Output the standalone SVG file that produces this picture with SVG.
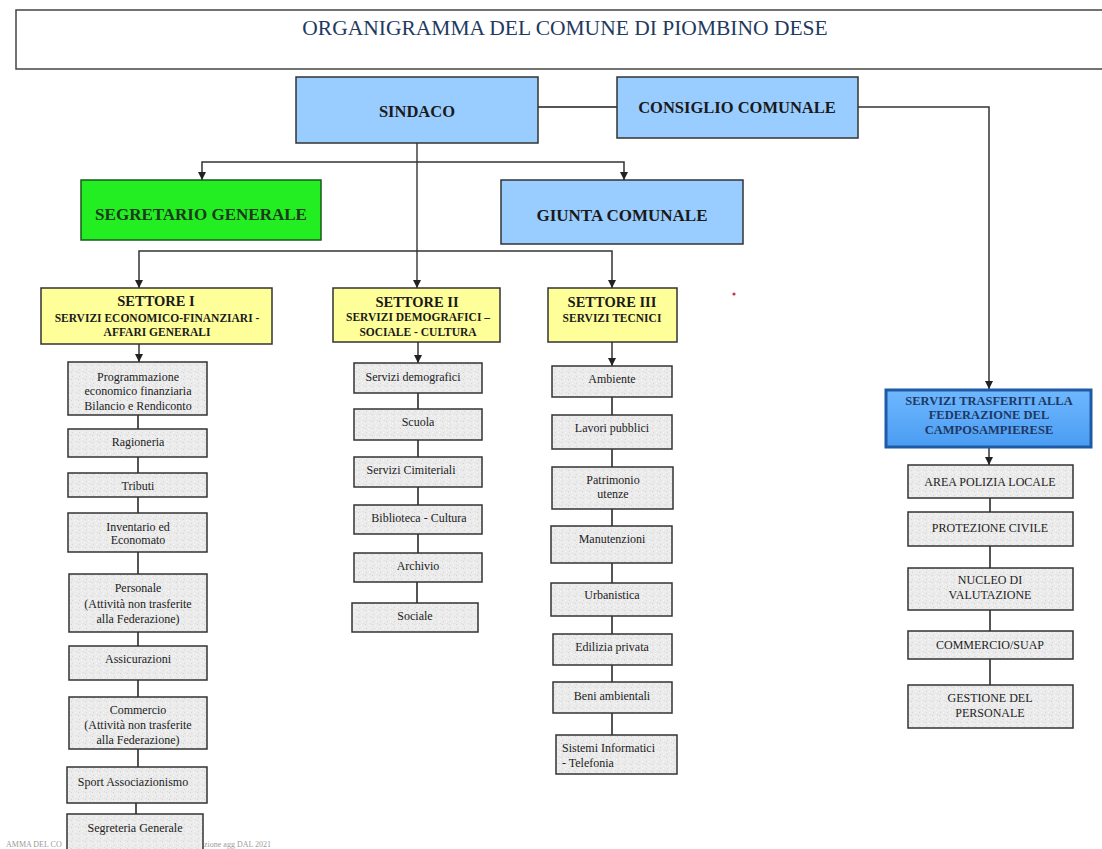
<svg xmlns="http://www.w3.org/2000/svg" width="1102" height="849" viewBox="0 0 1102 849">
<style>
text{font-family:"Liberation Serif","Times New Roman",serif;text-anchor:middle;fill:#222}
.h{font-weight:bold;font-size:16.5px;fill:#1a1a1a}
.st{font-weight:bold;font-size:14.5px;fill:#1a1a1a}
.ss{font-weight:bold;font-size:11.5px;fill:#1a1a1a}
.g{font-size:12px;fill:#222}
.u{font-size:12px;fill:#222}
.blue{fill:#99ccff;stroke:#333;stroke-width:1.5}
.yel{fill:#ffff99;stroke:#333;stroke-width:1.5}
.grey{fill:url(#gran);stroke:#333;stroke-width:1.5}
.c{stroke:#555;stroke-width:2;fill:none}
.ca{stroke:#333;stroke-width:1.5;fill:none;marker-end:url(#arr)}
</style>
<defs>
<marker id="arr" viewBox="0 0 8 8" refX="8" refY="4" markerWidth="8" markerHeight="8" markerUnits="userSpaceOnUse" orient="auto">
<path d="M0,0 L8,4 L0,8 z" fill="#222"/>
</marker>
<pattern id="gran" width="7" height="7" patternUnits="userSpaceOnUse">
<rect width="7" height="7" fill="#ebebeb"/>
<rect x="1" y="1" width="1" height="1" fill="#d2d2d2"/>
<rect x="4" y="2" width="1" height="1" fill="#f9f9f9"/>
<rect x="2" y="5" width="1" height="1" fill="#d8d8d8"/>
<rect x="5" y="5" width="1" height="1" fill="#fafafa"/>
<rect x="6" y="0" width="1" height="1" fill="#dcdcdc"/>
<rect x="0" y="3" width="1" height="1" fill="#f6f6f6"/>
</pattern>
<linearGradient id="bg" x1="0" y1="0" x2="0" y2="1">
<stop offset="0" stop-color="#6fb8ff"/>
<stop offset="1" stop-color="#4a9cf2"/>
</linearGradient>
</defs>
<rect width="1102" height="849" fill="#ffffff"/>

<g id="title">
<rect x="16" y="10" width="1100" height="59" fill="#fff" stroke="#444" stroke-width="1.5"/>
<text x="565" y="35" style="font-size:21.5px;fill:#1f3a5f">ORGANIGRAMMA DEL COMUNE DI PIOMBINO DESE</text>
</g>

<g id="footer">
<text x="6" y="847" style="font-size:8px;fill:#9a9a9a;text-anchor:start">AMMA DEL CO</text>
<text x="204" y="847" style="font-size:8px;fill:#9a9a9a;text-anchor:start">zione agg DAL 2021</text>
</g>

<g id="connectors">
<path class="c" d="M538,107 H617"/>
<path class="ca" d="M858,107 H989 V389"/>
<path class="ca" d="M417,143 V288" style="stroke:#111;stroke-width:1.2"/>
<path class="ca" d="M417,162 H202 V180"/>
<path class="ca" d="M417,162 H624 V180"/>
<path class="ca" d="M417,251 H139 V288"/>
<path class="ca" d="M417,251 H612 V288"/>
<path class="ca" d="M139,344 V362"/>
<path class="ca" d="M418,342 V363"/>
<path class="ca" d="M612,342 V366"/>
<path class="ca" d="M989,448 V465"/>
<path class="c" d="M138,415 V429 M138,457 V473 M138,497 V513 M138,552 V574 M138,632 V646 M138,680 V697 M138,749 V767 M136,803 V814"/>
<path class="c" d="M418,393 V409 M418,440 V457 M418,487 V505 M418,534 V553 M417,582 V603"/>
<path class="c" d="M612,397 V415 M612,449 V467 M612,509 V526 M612,563 V583 M612,616 V635 M612,665 V682 M612,713 V735"/>
<path class="c" d="M990,498 V512 M990,546 V568 M990,610 V631 M990,659 V685"/>
</g>

<circle cx="734" cy="294" r="1.6" fill="#cc3344"/>

<g id="sindaco"><rect class="blue" x="296" y="77" width="242" height="66"/><text class="h" x="417" y="117">SINDACO</text></g>
<g id="consiglio"><rect class="blue" x="617" y="77" width="241" height="61"/><text class="h" x="737" y="113">CONSIGLIO COMUNALE</text></g>
<g id="segretario"><rect x="81" y="180" width="240" height="60" fill="#22ee22" stroke="#1a5a1a" stroke-width="1.5"/><text class="h" x="201" y="220" style="font-size:17px;fill:#1c3a1c">SEGRETARIO GENERALE</text></g>
<g id="giunta"><rect class="blue" x="501" y="180" width="242" height="64"/><text class="h" x="622" y="221" style="font-size:17px">GIUNTA COMUNALE</text></g>

<g id="settore1"><rect class="yel" x="41" y="288" width="231" height="56"/>
<text class="st" x="156" y="306">SETTORE I</text>
<text class="ss" x="157" y="322">SERVIZI ECONOMICO-FINANZIARI -</text>
<text class="ss" x="157" y="336">AFFARI GENERALI</text></g>
<g id="settore2"><rect class="yel" x="333" y="288" width="167" height="54"/>
<text class="st" x="417" y="307">SETTORE II</text>
<text class="ss" x="418" y="321">SERVIZI DEMOGRAFICI –</text>
<text class="ss" x="418" y="336">SOCIALE - CULTURA</text></g>
<g id="settore3"><rect class="yel" x="548" y="288" width="129" height="54"/>
<text class="st" x="612" y="307">SETTORE III</text>
<text class="ss" x="612" y="322">SERVIZI TECNICI</text></g>

<g id="col1">
<g id="programmazione"><rect class="grey" x="68" y="362" width="139" height="53"/><text class="g" x="138" y="381">Programmazione</text><text class="g" x="138" y="395">economico finanziaria</text><text class="g" x="138" y="410">Bilancio e Rendiconto</text></g>
<g id="ragioneria"><rect class="grey" x="68" y="429" width="139" height="28"/><text class="g" x="138" y="446">Ragioneria</text></g>
<g id="tributi"><rect class="grey" x="68" y="473" width="139" height="24"/><text class="g" x="138" y="490">Tributi</text></g>
<g id="inventario"><rect class="grey" x="68" y="513" width="139" height="39"/><text class="g" x="138" y="531">Inventario ed</text><text class="g" x="138" y="544">Economato</text></g>
<g id="personale"><rect class="grey" x="69" y="574" width="138" height="58"/><text class="g" x="138" y="592">Personale</text><text class="g" x="138" y="608">(Attività non trasferite</text><text class="g" x="138" y="623">alla Federazione)</text></g>
<g id="assicurazioni"><rect class="grey" x="69" y="646" width="138" height="34"/><text class="g" x="138" y="663">Assicurazioni</text></g>
<g id="commercio"><rect class="grey" x="69" y="697" width="138" height="52"/><text class="g" x="138" y="714">Commercio</text><text class="g" x="138" y="729">(Attività non trasferite</text><text class="g" x="138" y="744">alla Federazione)</text></g>
<g id="sport"><rect class="grey" x="67" y="767" width="140" height="36"/><text class="g" x="133" y="786">Sport Associazionismo</text></g>
<g id="segreteria"><rect class="grey" x="67" y="814" width="136" height="46"/><text class="g" x="135" y="832">Segreteria Generale</text></g>
</g>

<g id="col2">
<g id="demografici"><rect class="grey" x="354" y="363" width="128" height="30"/><text class="g" x="413" y="381">Servizi demografici</text></g>
<g id="scuola"><rect class="grey" x="354" y="409" width="128" height="31"/><text class="g" x="418" y="426">Scuola</text></g>
<g id="cimiteriali"><rect class="grey" x="354" y="457" width="128" height="30"/><text class="g" x="411" y="474">Servizi Cimiteriali</text></g>
<g id="biblioteca"><rect class="grey" x="354" y="505" width="128" height="29"/><text class="g" x="419" y="522">Biblioteca - Cultura</text></g>
<g id="archivio"><rect class="grey" x="354" y="553" width="128" height="29"/><text class="g" x="418" y="570">Archivio</text></g>
<g id="sociale"><rect class="grey" x="352" y="603" width="126" height="29"/><text class="g" x="415" y="620">Sociale</text></g>
</g>

<g id="col3">
<g id="ambiente"><rect class="grey" x="552" y="366" width="120" height="31"/><text class="g" x="612" y="383">Ambiente</text></g>
<g id="lavori"><rect class="grey" x="552" y="415" width="120" height="34"/><text class="g" x="612" y="432">Lavori pubblici</text></g>
<g id="patrimonio"><rect class="grey" x="552" y="467" width="121" height="42"/><text class="g" x="613" y="484">Patrimonio</text><text class="g" x="613" y="498">utenze</text></g>
<g id="manutenzioni"><rect class="grey" x="551" y="526" width="121" height="37"/><text class="g" x="612" y="543">Manutenzioni</text></g>
<g id="urbanistica"><rect class="grey" x="551" y="583" width="121" height="33"/><text class="g" x="612" y="599">Urbanistica</text></g>
<g id="edilizia"><rect class="grey" x="553" y="634" width="119" height="31"/><text class="g" x="612" y="651">Edilizia privata</text></g>
<g id="beni"><rect class="grey" x="553" y="682" width="119" height="31"/><text class="g" x="612" y="700">Beni ambientali</text></g>
<g id="sistemi"><rect class="grey" x="556" y="735" width="121" height="39"/><text class="g" x="562" y="752" style="text-anchor:start">Sistemi Informatici</text><text class="g" x="562" y="767" style="text-anchor:start">- Telefonia</text></g>
</g>

<g id="federazione"><rect x="886" y="390" width="205" height="57" fill="url(#bg)" stroke="#1f5aa6" stroke-width="3"/>
<text class="ss" x="989" y="405" style="font-size:12.5px;fill:#1f3864">SERVIZI TRASFERITI ALLA</text>
<text class="ss" x="989" y="419" style="font-size:12.5px;fill:#1f3864">FEDERAZIONE DEL</text>
<text class="ss" x="989" y="434" style="font-size:12.5px;fill:#1f3864">CAMPOSAMPIERESE</text></g>

<g id="col4">
<g id="polizia"><rect class="grey" x="908" y="465" width="165" height="33"/><text class="u" x="990" y="486">AREA POLIZIA LOCALE</text></g>
<g id="protezione"><rect class="grey" x="908" y="512" width="165" height="34"/><text class="u" x="990" y="532">PROTEZIONE CIVILE</text></g>
<g id="nucleo"><rect class="grey" x="908" y="568" width="165" height="42"/><text class="u" x="990" y="584">NUCLEO DI</text><text class="u" x="990" y="599">VALUTAZIONE</text></g>
<g id="suap"><rect class="grey" x="908" y="631" width="165" height="28"/><text class="u" x="990" y="649">COMMERCIO/SUAP</text></g>
<g id="gestione"><rect class="grey" x="908" y="685" width="165" height="43"/><text class="u" x="990" y="702">GESTIONE DEL</text><text class="u" x="990" y="717">PERSONALE</text></g>
</g>
</svg>
